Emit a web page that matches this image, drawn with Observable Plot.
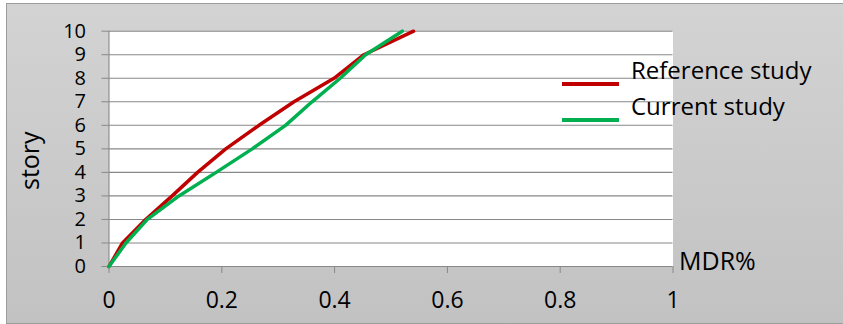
<!DOCTYPE html>
<html>
<head>
<meta charset="utf-8">
<script src="https://cdn.jsdelivr.net/npm/d3@7"></script>
<script src="https://cdn.jsdelivr.net/npm/@observablehq/plot@0.6"></script>
<style>
  html, body { margin: 0; padding: 0; background: #ffffff; }
  #wrap { position: relative; width: 843px; height: 324px; overflow: hidden; font-family: "Open Sans", sans-serif; color: #000; }
  #bg { position: absolute; left: 6px; top: 3px; width: 840px; height: 319px;
        background: linear-gradient(#d3d3d3, #c2c2c2);
        border-left: 1px solid #9c9c9c; border-top: 1px solid #9c9c9c; border-bottom: 1px solid #9c9c9c; }
  #chart { position: absolute; left: 0; top: 0; }
  .lbl { position: absolute; white-space: nowrap; line-height: 1; }
  .sw { position: absolute; height: 4px; }
</style>
</head>
<body>
<div id="wrap">
  <div id="bg"></div>
  <div id="chart"></div>
</div>
<script>
// Data
const stories = [0, 1, 2, 3, 4, 5, 6, 7, 8, 9, 10];
const referenceMDR = [0, 0.024, 0.065, 0.112, 0.157, 0.207, 0.266, 0.328, 0.399, 0.452, 0.540];
const currentMDR   = [0, 0.030, 0.068, 0.124, 0.190, 0.254, 0.313, 0.360, 0.410, 0.455, 0.520];
const seriesNames = ["Reference study", "Current study"];
const seriesColors = ["#C00000", "#00B050"];
const xTicks = [0, 0.2, 0.4, 0.6, 0.8, 1];
const yTicks = [0, 1, 2, 3, 4, 5, 6, 7, 8, 9, 10];
const xTitle = "MDR%";
const yTitle = "story";

const rows = [
  ...stories.map((s, i) => ({series: seriesNames[0], story: s, mdr: referenceMDR[i]})),
  ...stories.map((s, i) => ({series: seriesNames[1], story: s, mdr: currentMDR[i]}))
];

const W = 843, H = 324;
const mL = 108.5, mR = 170.5, mT = 30.7, mB = 58;

const plot = Plot.plot({
  width: W, height: H,
  marginLeft: mL, marginRight: mR, marginTop: mT, marginBottom: mB,
  style: {background: "transparent", fontFamily: "Open Sans, sans-serif", color: "#000"},
  x: {domain: [0, 1]},
  y: {domain: [0, 10]},
  marks: [
    Plot.frame({fill: "white", stroke: null}),
    Plot.ruleY(yTicks.filter(d => d > 0), {stroke: "#888888", strokeWidth: 1.1, strokeOpacity: 1}),
    Plot.ruleY([0], {stroke: "#888888", strokeWidth: 1.1}),
    Plot.ruleX([0], {stroke: "#888888", strokeWidth: 1.1}),
    Plot.axisX({ticks: xTicks, tickSize: 7, tickPadding: 18, tickFormat: d => String(d), fontSize: 23, stroke: "#888888", strokeOpacity: 1, label: null, color: "#000"}),
    Plot.axisY({ticks: yTicks, tickSize: 7, tickPadding: 16, tickFormat: d => String(d), fontSize: 20, stroke: "#888888", strokeOpacity: 1, label: null}),
    Plot.line(rows.filter(d => d.series === seriesNames[0]), {x: "mdr", y: "story", stroke: seriesColors[0], strokeWidth: 3.5, curve: "linear"}),
    Plot.line(rows.filter(d => d.series === seriesNames[1]), {x: "mdr", y: "story", stroke: seriesColors[1], strokeWidth: 3.5, curve: "linear"})
  ]
});
plot.querySelectorAll("text").forEach(t => t.setAttribute("fill", "#000"));
document.getElementById("chart").appendChild(plot);

const wrap = document.getElementById("wrap");
function addLabel(text, x, y, size, extra) {
  const s = document.createElement("div");
  s.className = "lbl";
  s.textContent = text;
  s.style.left = x + "px";
  s.style.top = y + "px";
  s.style.fontSize = size + "px";
  if (extra) Object.assign(s.style, extra);
  wrap.appendChild(s);
  return s;
}
function addSwatch(color, x, y, w) {
  const d = document.createElement("div");
  d.className = "sw";
  d.style.background = color;
  d.style.left = x + "px";
  d.style.top = y + "px";
  d.style.width = w + "px";
  wrap.appendChild(d);
}
// Legend
addSwatch(seriesColors[0], 562, 82, 57);
addLabel(seriesNames[0], 631, 58, 24);
addSwatch(seriesColors[1], 562, 118, 57);
addLabel(seriesNames[1], 631, 94, 24);
// Axis titles
addLabel(xTitle, 679, 248, 25);
const yl = addLabel(yTitle, 0, 0, 25, {transformOrigin: "0 0"});
const r = yl.getBoundingClientRect();
yl.style.left = (29 - r.height / 2) + "px";
yl.style.top = (161 + r.width / 2) + "px";
yl.style.transform = "rotate(-90deg)";
</script>
</body>
</html>
